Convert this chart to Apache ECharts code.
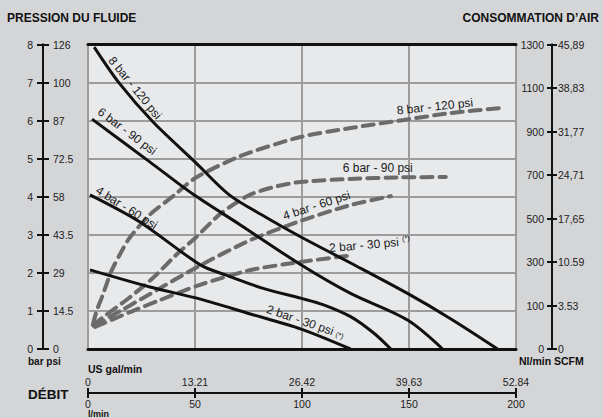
<!DOCTYPE html>
<html>
<head>
<meta charset="utf-8">
<script src="https://cdn.jsdelivr.net/npm/echarts@6/dist/echarts.min.js"></script>
<style>
  html, body { margin: 0; padding: 0; background: #d4d5d7; }
  #graphique { width: 603px; height: 418px; }
</style>
</head>
<body>
<div id="graphique"></div>
<script>
// Échelles
const debitLmin = [0, 50, 100, 150, 200];
const debitGal = ['0', '13.21', '26.42', '39.63', '52.84'];
const pressionBar = ['0', '1', '2', '3', '4', '5', '6', '7', '8'];
const pressionPsi = ['0', '14.5', '29', '43.5', '58', '72.5', '87', '100', '126'];
const consoNl = [0, 100, 300, 500, 700, 900, 1100, 1300];
const consoScfm = ['0', '3.53', '10.59', '17,65', '24,71', '31,77', '38,83', '45,89'];

// Courbes de pression du fluide [débit l/min, bar]
const pression8 = [[2.9, 7.93], [14.5, 6.99], [30.3, 5.97], [50.1, 4.91], [66.0, 4.05], [82.9, 3.47], [99.3, 2.95], [122.7, 2.26], [149.3, 1.46], [169.6, 0.79], [191.4, 0]];
const pression6 = [[1.9, 6.04], [29.0, 4.91], [49.0, 4.07], [71.2, 3.26], [99.3, 2.22], [122.7, 1.46], [149.3, 0.76], [165.7, 0]];
const pression4 = [[0.9, 4.05], [23.9, 3.35], [52.5, 2.21], [64.6, 1.94], [81.5, 1.60], [99.8, 1.33], [110.1, 1.16], [122.7, 0.85], [133.5, 0.42], [141.5, 0]];
const pression2 = [[0.9, 2.08], [29.0, 1.63], [52.5, 1.31], [75.9, 0.92], [99.3, 0.53], [122.7, 0]];

// Consommation d'air [débit l/min, Nl/min]
const air8 = [[2.3, 57], [4.2, 90], [6.9, 148], [10.8, 255], [15.0, 337], [19.3, 409], [28.7, 516], [40.4, 608], [50.1, 686], [71.2, 787], [99.3, 875], [122.7, 916], [147.5, 953], [169.6, 985], [193, 1008]];
const air6 = [[2.3, 55], [8.4, 78], [19.7, 139], [30.3, 226], [40.7, 328], [50.6, 415], [61.8, 521], [75.4, 608], [88.5, 649], [99.3, 668], [122.7, 682], [146.1, 689], [167.2, 691]];
const air4 = [[2.8, 53], [10.3, 74], [29.0, 153], [52.0, 282], [75.9, 401], [99.3, 489], [122.7, 562], [141.5, 603]];
const air2 = [[3.3, 51], [19.7, 85], [33.7, 125], [52.0, 194], [75.9, 263], [99.3, 300], [124.1, 332]];

const police = "'Liberation Sans', Arial, sans-serif";
const noir = '#111';
const grisGrille = '#9c9c9c';
const grisTirets = '#6b6b6b';

// l'échelle Nl/min n'est pas linéaire (0, 100, 300, ...) : on passe par l'indice de graduation
function nlVersAxe(v) {
  for (let i = 0; i < consoNl.length - 1; i++) {
    if (v <= consoNl[i + 1]) return i + (v - consoNl[i]) / (consoNl[i + 1] - consoNl[i]);
  }
  return consoNl.length - 1;
}

const chart = echarts.init(document.getElementById('graphique'), null, { renderer: 'svg' });

const lignePleine = (nom, data) => ({
  name: nom, type: 'line', xAxisIndex: 0, yAxisIndex: 0, data: data,
  smooth: 0.3, symbol: 'none', z: 5,
  lineStyle: { color: noir, width: 3 }
});
const ligneTirets = (nom, data) => ({
  name: nom, type: 'line', xAxisIndex: 0, yAxisIndex: 3,
  data: data.map(([d, v]) => [d, nlVersAxe(v)]),
  smooth: 0.25, symbol: 'none', z: 4,
  lineStyle: { color: grisTirets, width: 4, type: [11, 7], cap: 'round' }
});

const lbl = { fontFamily: police, fontSize: 10.5, color: '#222' };
const trait = { show: true, onZero: false, lineStyle: { color: noir, width: 2 } };

chart.setOption({
  animation: false,
  backgroundColor: '#d4d5d7',
  grid: { left: 88, right: 87, top: 44.5, bottom: 69, show: true, backgroundColor: '#e8e9eb', borderWidth: 0, outerBoundsMode: 'none' },
  xAxis: [
    { type: 'value', position: 'bottom', min: 0, max: 200, interval: 50,
      axisLine: { onZero: false, lineStyle: { color: noir, width: 3 } }, axisTick: { show: false }, axisLabel: { show: false },
      splitLine: { lineStyle: { color: grisGrille, width: 2 } } },
    { type: 'value', position: 'top', min: 0, max: 200,
      axisLine: { show: true, onZero: false, lineStyle: { color: noir, width: 3 } }, axisTick: { show: false }, axisLabel: { show: false },
      splitLine: { show: false } },
    { type: 'value', position: 'bottom', offset: 44, min: 0, max: 200, interval: 50,
      axisLine: trait,
      axisTick: { length: 5, lineStyle: { color: noir, width: 2 } },
      axisLabel: Object.assign({ margin: 5, formatter: v => String(debitLmin[Math.round(v / 50)]) }, lbl),
      splitLine: { show: false } },
    { type: 'value', position: 'bottom', offset: 44, min: 0, max: 200, interval: 50,
      axisLine: trait,
      axisTick: { inside: true, length: 5, lineStyle: { color: noir, width: 2 } },
      axisLabel: Object.assign({ inside: true, margin: 6, formatter: v => debitGal[Math.round(v / 50)] }, lbl),
      splitLine: { show: false } }
  ],
  yAxis: [
    { type: 'value', position: 'left', min: 0, max: 8, interval: 1,
      axisLine: { show: false }, axisTick: { show: false }, axisLabel: { show: false },
      splitLine: { lineStyle: { color: grisGrille, width: 2 } } },
    { type: 'value', position: 'left', offset: 45, min: 0, max: 8, interval: 1,
      axisLine: trait,
      axisTick: { show: true, length: 6, lineStyle: { color: noir, width: 2 } },
      axisLabel: Object.assign({ margin: 10, formatter: v => pressionBar[Math.round(v)] }, lbl),
      splitLine: { show: false } },
    { type: 'value', position: 'left', offset: 45, min: 0, max: 8, interval: 1,
      axisLine: trait,
      axisTick: { show: true, inside: true, length: 6, lineStyle: { color: noir, width: 2 } },
      axisLabel: Object.assign({ inside: true, margin: 10, formatter: v => pressionPsi[Math.round(v)] }, lbl),
      splitLine: { show: false } },
    { type: 'value', position: 'right', offset: 36, min: 0, max: 7, interval: 1,
      axisLine: trait,
      axisTick: { show: true, length: 5, lineStyle: { color: noir, width: 2 } },
      axisLabel: Object.assign({ margin: 6, formatter: v => consoScfm[Math.round(v)] }, lbl),
      splitLine: { show: false } },
    { type: 'value', position: 'right', offset: 36, min: 0, max: 7, interval: 1,
      axisLine: trait,
      axisTick: { show: true, inside: true, length: 5, lineStyle: { color: noir, width: 2 } },
      axisLabel: Object.assign({ inside: true, margin: 8, formatter: v => String(consoNl[Math.round(v)]) }, lbl),
      splitLine: { show: false } }
  ],
  series: [
    ligneTirets('Air 8 bar', air8),
    ligneTirets('Air 6 bar', air6),
    ligneTirets('Air 4 bar', air4),
    ligneTirets('Air 2 bar', air2),
    lignePleine('8 bar', pression8),
    lignePleine('6 bar', pression6),
    lignePleine('4 bar', pression4),
    lignePleine('2 bar', pression2)
  ]
});

// Étiquettes des courbes : ancrage en coordonnées du graphique, rotation en degrés
const etiquettes = [
  { texte: '8 bar - 120 psi', at: [22.0, 6.86], axe: 0, rot: -51 },
  { texte: '6 bar - 90 psi', at: [18.3, 5.72], axe: 0, rot: -37 },
  { texte: '4 bar - 60 psi', at: [18.1, 3.71], axe: 0, rot: -32 },
  { texte: '2 bar - 30 psi {p|(*)}', at: [101.6, 0.71], axe: 0, rot: -19 },
  { texte: '8 bar - 120 psi', at: [162.1, 1015], axe: 3, rot: 6 },
  { texte: '6 bar - 90 psi', at: [135.4, 734], axe: 3, rot: 0 },
  { texte: '4 bar - 60 psi', at: [106.8, 560], axe: 3, rot: 18 },
  { texte: '2 bar - 30 psi {s|(*)}', at: [131.6, 380], axe: 3, rot: 5 }
];

const texteGras = (t, x, y, taille, align) => ({
  type: 'text', x: x, y: y,
  style: { text: t, fontFamily: police, fontWeight: 'bold', fontSize: taille, fill: '#111', align: align || 'left', verticalAlign: 'middle' }
});

const graphiques = [
  texteGras('PRESSION DU FLUIDE', 7, 18, 12),
  texteGras('CONSOMMATION D\u2019AIR', 599, 18, 12, 'right'),
  texteGras('bar psi', 28, 361, 10),
  texteGras('Nl/min SCFM', 519, 361, 10.5),
  texteGras('US gal/min', 88, 369, 10.5),
  texteGras('DÉBIT', 28, 394, 13.5),
  texteGras('l/min', 88, 414, 9)
];

etiquettes.forEach(e => {
  const y = e.axe === 3 ? nlVersAxe(e.at[1]) : e.at[1];
  const p = chart.convertToPixel({ xAxisIndex: 0, yAxisIndex: e.axe }, [e.at[0], y]);
  graphiques.push({
    type: 'text', x: p[0], y: p[1], rotation: e.rot * Math.PI / 180, z: 10,
    style: {
      text: e.texte, fontFamily: police, fontSize: 12, fill: '#1a1a1a',
      align: 'center', verticalAlign: 'middle',
      rich: {
        p: { fontFamily: police, fontSize: 7.5, fill: '#1a1a1a', padding: [3, 0, 0, 0] },
        s: { fontFamily: police, fontSize: 7.5, fill: '#1a1a1a', padding: [0, 0, 6, 0] }
      }
    }
  });
});

chart.setOption({ graphic: graphiques });
</script>
</body>
</html>
